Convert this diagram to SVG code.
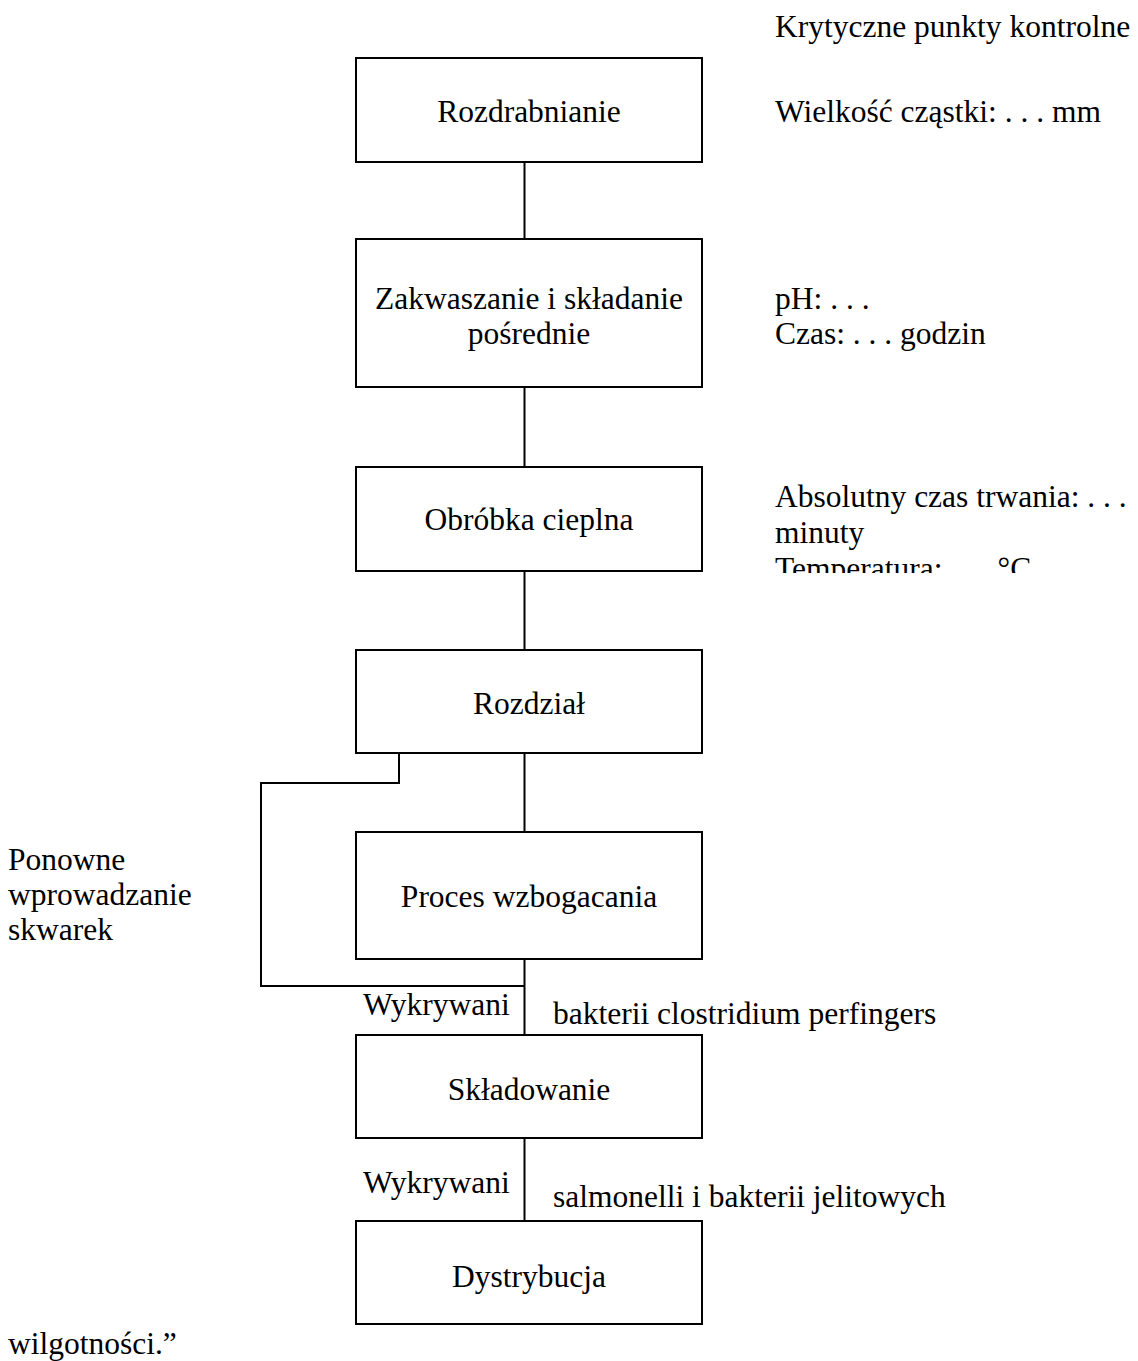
<svg xmlns="http://www.w3.org/2000/svg" width="1138" height="1361" viewBox="0 0 1138 1361">
<style>
text{font-family:"Liberation Serif","Times New Roman",serif;font-size:31.5px;fill:#000}
.c{text-anchor:middle}
.box{fill:#fff;stroke:#000;stroke-width:2}
.ln{fill:none;stroke:#000;stroke-width:2}
</style>
<defs>
<clipPath id="clipT"><rect x="760" y="460" width="378" height="113"/></clipPath>
</defs>
<g id="connectors">
<line class="ln" x1="524.5" y1="162" x2="524.5" y2="239"/>
<line class="ln" x1="524.5" y1="387" x2="524.5" y2="467"/>
<line class="ln" x1="524.5" y1="571" x2="524.5" y2="650"/>
<line class="ln" x1="524.5" y1="753" x2="524.5" y2="832"/>
<line class="ln" x1="524.5" y1="959" x2="524.5" y2="1035"/>
<line class="ln" x1="524.5" y1="1138" x2="524.5" y2="1221"/>
<polyline class="ln" points="399,753 399,783 261,783 261,986 525,986"/>
</g>
<g id="n1"><rect class="box" x="356" y="58" width="346" height="104"/><text class="c" x="529" y="122">Rozdrabnianie</text></g>
<g id="n2"><rect class="box" x="356" y="239" width="346" height="148"/><text class="c" x="529" y="309">Zakwaszanie i składanie</text><text class="c" x="529" y="344">pośrednie</text></g>
<g id="n3"><rect class="box" x="356" y="467" width="346" height="104"/><text class="c" x="529" y="530">Obróbka cieplna</text></g>
<g id="n4"><rect class="box" x="356" y="650" width="346" height="103"/><text class="c" x="529" y="714">Rozdział</text></g>
<g id="n5"><rect class="box" x="356" y="832" width="346" height="127"/><text class="c" x="529" y="907">Proces wzbogacania</text></g>
<g id="n6"><rect class="box" x="356" y="1035" width="346" height="103"/><text class="c" x="529" y="1100">Składowanie</text></g>
<g id="n7"><rect class="box" x="356" y="1221" width="346" height="103"/><text class="c" x="529" y="1287">Dystrybucja</text></g>
<g id="labels">
<text x="775" y="37">Krytyczne punkty kontrolne</text>
<text x="775" y="122">Wielkość cząstki: . . . mm</text>
<text x="775" y="309">pH: . . .</text>
<text x="775" y="344">Czas: . . . godzin</text>
<g clip-path="url(#clipT)">
<text x="775" y="507">Absolutny czas trwania: . . .</text>
<text x="775" y="543">minuty</text>
<text x="775" y="579">Temperatura: . . . °C</text>
</g>
<text x="8" y="870">Ponowne</text>
<text x="8" y="905">wprowadzanie</text>
<text x="8" y="940">skwarek</text>
<text x="363" y="1015">Wykrywani</text>
<text x="553" y="1024">bakterii clostridium perfingers</text>
<text x="363" y="1193">Wykrywani</text>
<text x="553" y="1207">salmonelli i bakterii jelitowych</text>
<text x="8" y="1354">wilgotności.”</text>
</g>
</svg>
